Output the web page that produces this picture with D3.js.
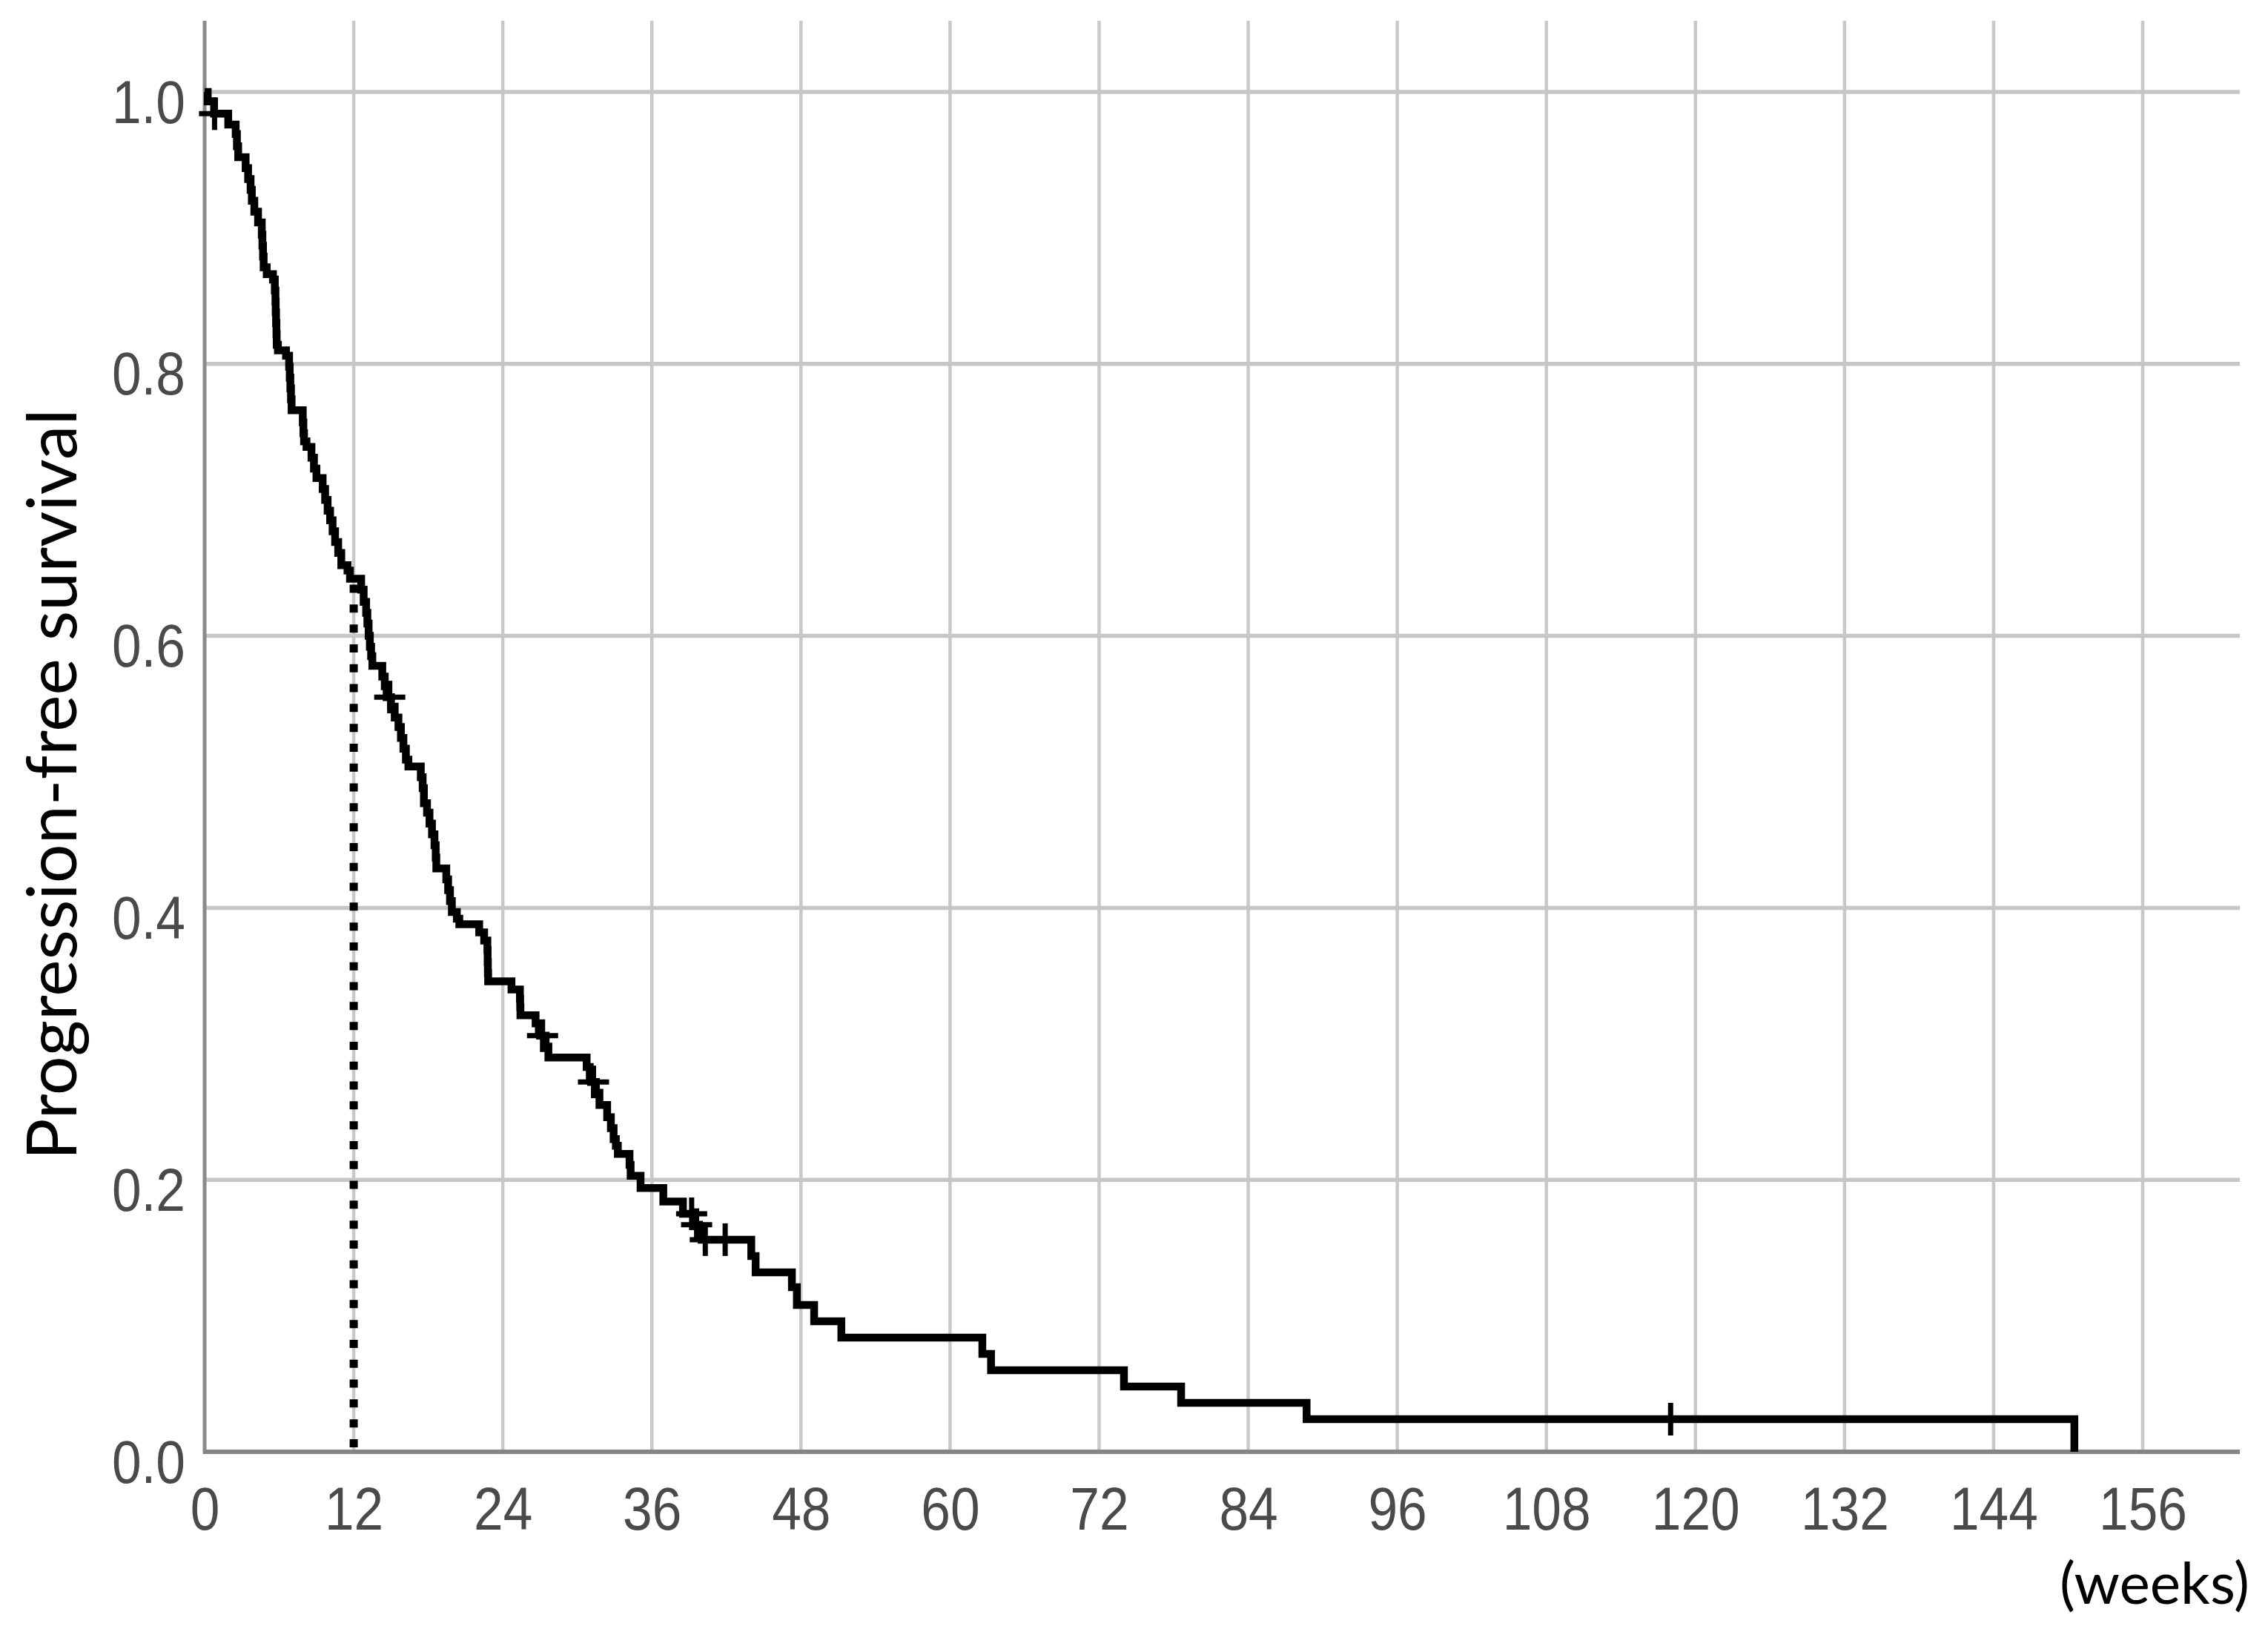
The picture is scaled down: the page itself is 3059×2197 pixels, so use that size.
<!DOCTYPE html>
<html><head><meta charset="utf-8">
<script src="https://cdn.jsdelivr.net/npm/d3@7"></script>
<style>html,body{margin:0;padding:0;background:#fff;} svg{display:block;}</style>
</head><body>
<svg id="chart" width="3059" height="2197"></svg>
<script>
// ---- data ----
const stepTimes = [0, 0.25, 0.76, 1.9, 2.5, 2.6, 2.7, 3.3, 3.5, 3.7, 3.8, 4.0, 4.3, 4.6, 4.65, 4.7, 4.75, 5.0, 5.5, 5.65, 5.7, 5.72, 5.75, 5.78, 5.8, 5.9, 6.55, 6.8, 6.85, 6.9, 6.95, 7.0, 7.9, 7.95, 8.0, 8.2, 8.6, 8.8, 9.0, 9.5, 9.7, 9.9, 10.1, 10.3, 10.5, 10.75, 11.0, 11.5, 11.7, 12.6, 12.8, 13.0, 13.1, 13.2, 13.3, 13.4, 13.5, 14.3, 14.5, 14.65, 15.0, 15.3, 15.6, 15.8, 16.0, 16.2, 16.4, 17.4, 17.55, 17.65, 17.9, 18.1, 18.3, 18.5, 18.6, 18.65, 19.45, 19.6, 19.75, 19.9, 20.3, 20.5, 22.1, 22.5, 22.76, 22.78, 22.8, 22.82, 24.7, 25.38, 25.4, 25.42, 26.64, 26.9, 27.0, 27.45, 27.67, 30.75, 31.0, 31.1, 31.5, 31.78, 32.4, 32.7, 32.92, 33.1, 33.26, 34.2, 34.29, 35.09, 36.92, 38.5, 39.4, 39.8, 40.0, 44.0, 44.35, 47.27, 47.67, 49.06, 51.25, 62.6, 63.3, 74.0, 78.6, 88.7, 150.5];
const stepSurvival = [1.0, 0.993, 0.984, 0.976, 0.969, 0.96, 0.952, 0.944, 0.936, 0.928, 0.92, 0.912, 0.904, 0.895, 0.887, 0.879, 0.871, 0.866, 0.862, 0.854, 0.846, 0.838, 0.83, 0.822, 0.814, 0.81, 0.806, 0.798, 0.79, 0.782, 0.774, 0.766, 0.757, 0.749, 0.743, 0.739, 0.731, 0.723, 0.716, 0.708, 0.7, 0.692, 0.685, 0.677, 0.669, 0.661, 0.652, 0.648, 0.642, 0.634, 0.625, 0.617, 0.609, 0.6, 0.592, 0.585, 0.578, 0.57, 0.563, 0.555, 0.548, 0.54, 0.533, 0.525, 0.517, 0.509, 0.504, 0.496, 0.488, 0.477, 0.47, 0.462, 0.454, 0.446, 0.437, 0.429, 0.421, 0.413, 0.405, 0.397, 0.392, 0.388, 0.382, 0.376, 0.369, 0.36, 0.352, 0.346, 0.34, 0.333, 0.327, 0.321, 0.315, 0.31, 0.306, 0.298, 0.29, 0.283, 0.276, 0.272, 0.264, 0.255, 0.246, 0.238, 0.23, 0.225, 0.219, 0.211, 0.203, 0.194, 0.184, 0.175, 0.167, 0.162, 0.156, 0.144, 0.132, 0.121, 0.108, 0.096, 0.084, 0.072, 0.06, 0.048, 0.036, 0.024, 0.0];
const censorTimes = [0.8, 14.9, 27.2, 31.3, 39.2, 39.6, 40.3, 41.9, 118.0];
const xTickValues = [0, 12, 24, 36, 48, 60, 72, 84, 96, 108, 120, 132, 144, 156];
const yTickValues = [0, 0.2, 0.4, 0.6, 0.8, 1.0];
const referenceWeek = 12;
const xAxisTitle = "(weeks)";
const yAxisTitle = "Progression-free survival";

// ---- chart ----
const svg = d3.select("#chart");
svg.append("rect").attr("width", 3059).attr("height", 2197).attr("fill", "#fff");

const x = d3.scaleLinear().domain([0, 156]).range([276, 2890]);
const y = d3.scaleLinear().domain([0, 1]).range([1958, 124]);
const plotTop = 28, plotRight = 3021;

// grid
const grid = svg.append("g");
grid.selectAll("line.v").data(xTickValues.filter(d => d > 0)).join("line")
  .attr("x1", d => x(d)).attr("x2", d => x(d))
  .attr("y1", plotTop).attr("y2", y(0))
  .attr("stroke", "#c8c8c8").attr("stroke-width", 4.5);
grid.selectAll("line.h").data(yTickValues.filter(d => d > 0)).join("line")
  .attr("x1", x(0)).attr("x2", plotRight)
  .attr("y1", d => y(d)).attr("y2", d => y(d))
  .attr("stroke", "#c6c6c6").attr("stroke-width", 5.5);

// axis lines
svg.append("line").attr("x1", x(0)).attr("x2", x(0)).attr("y1", plotTop).attr("y2", y(0) + 3)
  .attr("stroke", "#8a8a8a").attr("stroke-width", 5);
svg.append("line").attr("x1", x(0) - 2).attr("x2", plotRight).attr("y1", y(0)).attr("y2", y(0))
  .attr("stroke", "#858585").attr("stroke-width", 6);

// axes labels via d3 axes
const tickFont = "'Liberation Sans', Arial, sans-serif";
const xAxisG = svg.append("g").attr("transform", `translate(0,${y(0)})`)
  .call(d3.axisBottom(x).tickValues(xTickValues).tickSize(0).tickFormat(d3.format("d")));
xAxisG.select(".domain").remove();
xAxisG.selectAll("text")
  .attr("y", 105).attr("dy", 0)
  .attr("transform", "scale(0.88,1)")
  .attr("font-family", tickFont).attr("font-size", 81).attr("fill", "#4a4a4a");

const yAxisG = svg.append("g").attr("transform", `translate(${x(0)},0)`)
  .call(d3.axisLeft(y).tickValues(yTickValues).tickSize(0).tickFormat(d3.format(".1f")));
yAxisG.select(".domain").remove();
yAxisG.selectAll("text")
  .attr("x", -26 / 0.88).attr("dy", 0).attr("y", 41)
  .attr("transform", "scale(0.88,1)")
  .attr("text-anchor", "end")
  .attr("font-family", tickFont).attr("font-size", 81).attr("fill", "#4a4a4a");

// reference dotted line at 12 weeks
function survAt(t) {
  let s = stepSurvival[0];
  for (let i = 0; i < stepTimes.length; i++) { if (stepTimes[i] <= t) s = stepSurvival[i]; else break; }
  return s;
}
svg.append("line")
  .attr("x1", x(referenceWeek)).attr("x2", x(referenceWeek))
  .attr("y1", y(survAt(referenceWeek)) + 8).attr("y2", y(0) + 8)
  .attr("stroke", "#000").attr("stroke-width", 11)
  .attr("stroke-dasharray", "11,15.8");

// KM curve
const pts = stepTimes.map((t, i) => [t, stepSurvival[i]]);
const line = d3.line().x(d => x(d[0])).y(d => y(d[1])).curve(d3.curveStepAfter);
svg.append("path").attr("d", line(pts))
  .attr("fill", "none").attr("stroke", "#000").attr("stroke-width", 10.5)
  .attr("stroke-linejoin", "miter");

// censor marks
const cg = svg.append("g");
censorTimes.forEach(t => {
  const cx = x(t), cy = y(survAt(t));
  cg.append("line").attr("x1", cx - 21).attr("x2", cx + 21).attr("y1", cy).attr("y2", cy)
    .attr("stroke", "#000").attr("stroke-width", 7);
  cg.append("line").attr("x1", cx).attr("x2", cx).attr("y1", cy - 22).attr("y2", cy + 22)
    .attr("stroke", "#000").attr("stroke-width", 7);
});

// titles
const titleFont = "Lato, 'Open Sans', sans-serif";
const yt = svg.append("text").text(yAxisTitle)
  .attr("font-family", titleFont).attr("font-size", 90).attr("fill", "#000")
  .attr("text-anchor", "middle")
  .attr("transform", "translate(103,1058) rotate(-90)");
let w = yt.node().getComputedTextLength();
yt.attr("font-size", 90 * 1013 / w);

const xt = svg.append("text").text(xAxisTitle)
  .attr("font-family", titleFont).attr("font-size", 80).attr("fill", "#000")
  .attr("text-anchor", "end")
  .attr("x", 3034).attr("y", 2163);
w = xt.node().getComputedTextLength();
xt.attr("font-size", 80 * 256 / w);
</script>
</body></html>
